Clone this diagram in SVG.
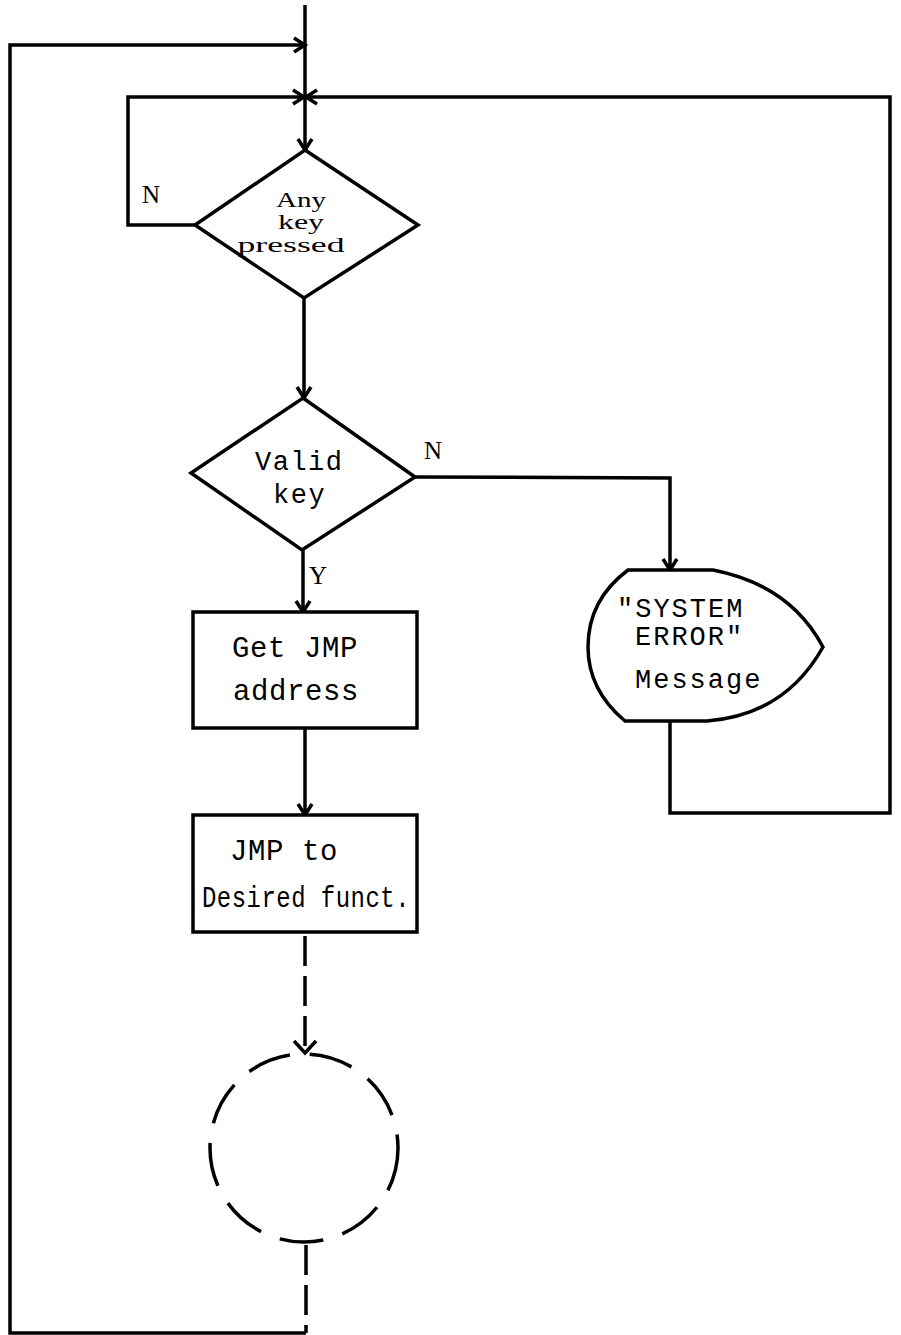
<svg xmlns="http://www.w3.org/2000/svg" width="901" height="1335" viewBox="0 0 901 1335">
<style>
.ln{fill:none;stroke:#000;stroke-width:3.5;stroke-linejoin:miter}
.sh{fill:#fff;stroke:#000;stroke-width:3.5}
.dash{fill:none;stroke:#000;stroke-width:3.5;stroke-dasharray:30 10}
.mono{font-family:"Liberation Mono","DejaVu Sans Mono",monospace;font-size:29px;letter-spacing:0.6px;fill:#000}
.msg{font-size:27px;letter-spacing:2px}
.vk{font-size:27px;letter-spacing:1.5px}
.ser{font-family:"Liberation Serif","DejaVu Serif",serif;font-size:25px;fill:#000}
.dk{font-size:20px}
</style>
<defs>
<marker id="ah" markerUnits="userSpaceOnUse" markerWidth="20" markerHeight="20" viewBox="-12 -10 14 20" refX="0" refY="0" orient="auto">
<path d="M-11,-7 L0,0 L-11,7" fill="none" stroke="#000" stroke-width="3.5"/>
</marker>
</defs>
<rect width="901" height="1335" fill="#fff"/>
<g id="connectors">
<path class="ln" d="M305,5 L305,150" marker-end="url(#ah)"/>
<path class="ln" d="M306,1333 L10,1333 L10,45 L305,45" marker-end="url(#ah)"/>
<path class="ln" d="M195,225 L128,225 L128,97 L304,97" marker-end="url(#ah)"/>
<path class="ln" d="M670,721 L670,813 L890,813 L890,97 L306,97" marker-end="url(#ah)"/>
<path class="ln" d="M304,298 L304,398" marker-end="url(#ah)"/>
<path class="ln" d="M415,477 L670,478 L670,570" marker-end="url(#ah)"/>
<path class="ln" d="M303,550 L303,612" marker-end="url(#ah)"/>
<path class="ln" d="M305,728 L305,815" marker-end="url(#ah)"/>
<path class="dash" d="M305,936 L305,1052"/>
<path d="M294,1041 L305,1053 L316,1041" fill="none" stroke="#000" stroke-width="3.5"/>
<path class="dash" d="M306,1245 L306,1333"/>
<text class="ser" x="142" y="203">N</text>
<text class="ser" x="424" y="459">N</text>
<text class="ser" x="309" y="584">Y</text>
</g>
<g id="any-key">
<polygon class="sh" points="305,150 418,225 304,298 195,225"/>
<text class="ser dk" x="301" y="207" text-anchor="middle" textLength="50" lengthAdjust="spacingAndGlyphs">Any</text>
<text class="ser dk" x="301" y="229" text-anchor="middle" textLength="46" lengthAdjust="spacingAndGlyphs">key</text>
<text class="ser dk" x="291" y="252" text-anchor="middle" textLength="107" lengthAdjust="spacingAndGlyphs">pressed</text>
</g>
<g id="valid-key">
<polygon class="sh" points="303,398 415,477 302,550 191,473"/>
<text class="mono vk" x="255" y="470">Valid</text>
<text class="mono vk" x="273" y="503">key</text>
</g>
<g id="get-jmp">
<rect class="sh" x="193" y="612" width="224" height="116"/>
<text class="mono" x="232" y="657">Get JMP</text>
<text class="mono" x="233" y="700">address</text>
</g>
<g id="jmp-to">
<rect class="sh" x="193" y="815" width="224" height="117"/>
<text class="mono" x="230" y="860">JMP to</text>
<text class="mono" x="202" y="907" textLength="208" lengthAdjust="spacingAndGlyphs">Desired funct.</text>
</g>
<g id="system-error">
<path class="sh" d="M628,570 L713,570 Q790,585 823,647 Q785,715 707,721 L625,721 Q588,690 588,647 Q588,600 628,570 Z"/>
<text class="mono msg" x="617" y="617">"SYSTEM</text>
<text class="mono msg" x="635" y="645">ERROR"</text>
<text class="mono msg" x="635" y="688">Message</text>
</g>
<g id="connector-circle">
<circle cx="304" cy="1148" r="94" fill="none" stroke="#000" stroke-width="3.5" stroke-dasharray="44 20"/>
</g>
</svg>
